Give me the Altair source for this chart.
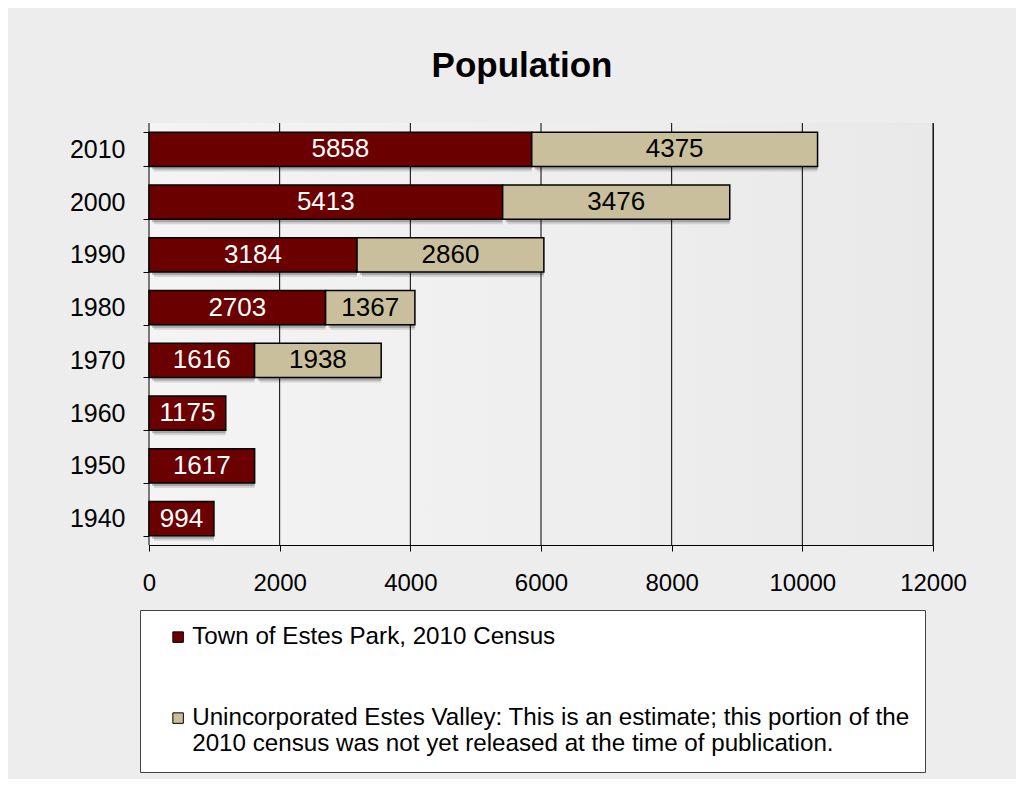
import altair as alt
import pandas as pd

years = ["2010", "2000", "1990", "1980", "1970", "1960", "1950", "1940"]
town = [5858, 5413, 3184, 2703, 1616, 1175, 1617, 994]
unincorporated = [4375, 3476, 2860, 1367, 1938, None, None, None]
series_names = [
    "Town of Estes Park, 2010 Census",
    "Unincorporated Estes Valley: This is an estimate; this portion of the|2010 census was not yet released at the time of publication.",
]
series_colors = ["#6B0000", "#C9BF9C"]
x_ticks = [0, 2000, 4000, 6000, 8000, 10000, 12000]

FONT = "Liberation Sans"
W, H = 784, 422

rows = []
for y, t, u in zip(years, town, unincorporated):
    rows.append({"year": y, "series": series_names[0], "value": t, "order": 0})
    if u is not None:
        rows.append({"year": y, "series": series_names[1], "value": u, "order": 1})
df = pd.DataFrame(rows)
grid_df = pd.DataFrame({"t": x_ticks})

x_scale = alt.Scale(domain=[0, 12000], nice=False, zero=True)
x_axis = alt.Axis(
    title=None, values=x_ticks, format="d", grid=False, labelFlush=False,
    labelFontSize=24, labelFont=FONT, labelColor="black", labelPadding=20,
    tickSize=6, tickColor="black", domainColor="black",
)
y_enc = alt.Y(
    "year:N", sort=years,
    scale=alt.Scale(paddingInner=0.355, paddingOuter=0.1775),
    axis=alt.Axis(
        title=None, tickBand="extent", labelFontSize=25, labelFont=FONT,
        labelColor="black", labelPadding=18, tickSize=6, tickColor="black",
        domainColor="black",
    ),
)

base = (
    alt.Chart(df)
    .transform_stack(stack="value", groupby=["year"], as_=["x0", "x1"],
                     sort=[alt.SortField("order")])
    .transform_calculate(mid="(datum.x0 + datum.x1) / 2")
)

bg = alt.Chart(pd.DataFrame({"d": [0]})).mark_rect(
    fill=alt.Gradient(
        gradient="linear", x1=0, x2=1, y1=0, y2=0,
        stops=[alt.GradientStop(offset=0, color="#F4F4F4"),
               alt.GradientStop(offset=1, color="#E9E9E9")],
    )
).encode(x=alt.value(0), x2=alt.value(W), y=alt.value(0), y2=alt.value(H))

grid = alt.Chart(grid_df).mark_rule(color="black", strokeWidth=1).encode(
    x=alt.X("t:Q", scale=x_scale, axis=x_axis)
)

shadow1 = base.mark_bar(xOffset=5, yOffset=5, color="black", opacity=0.12).encode(
    x=alt.X("x0:Q", scale=x_scale, axis=x_axis), x2="x1:Q", y=y_enc
)
shadow2 = base.mark_bar(xOffset=3, yOffset=3, color="black", opacity=0.22).encode(
    x=alt.X("x0:Q", scale=x_scale, axis=x_axis), x2="x1:Q", y=y_enc
)

bars = base.mark_bar(stroke="black", strokeWidth=1.5).encode(
    x=alt.X("x0:Q", scale=x_scale, axis=x_axis),
    x2="x1:Q",
    y=y_enc,
    color=alt.Color(
        "series:N",
        scale=alt.Scale(domain=series_names, range=series_colors),
        legend=alt.Legend(
            title=None, orient="none", legendX=-9, legendY=487,
            direction="vertical", fillColor="white", strokeColor="#444",
            padding=15, symbolOffset=11, symbolType="square", symbolSize=110,
            symbolStrokeColor="black", symbolStrokeWidth=1,
            labelFontSize=24.2, labelFont=FONT, labelColor="black",
            labelLimit=1000, rowPadding=56, labelOffset=2,
            labelExpr="split(datum.label, '|')",
        ),
    ),
)

labels = base.mark_text(fontSize=26, font=FONT).encode(
    x=alt.X("mid:Q", scale=x_scale, axis=x_axis),
    y=y_enc,
    text=alt.Text("value:Q", format="d"),
    color=alt.condition(alt.datum.order == 0, alt.value("white"), alt.value("black")),
)

chart = (
    alt.layer(bg, grid, shadow1, shadow2, bars, labels)
    .properties(
        width=W, height=H,
        title=alt.Title("Population", fontSize=35, fontWeight="bold", font=FONT,
                        color="black", anchor="middle", offset=27, dx=-19),
        autosize=alt.AutoSizeParams(type="none"),
        padding={"left": 141, "top": 115, "right": 83, "bottom": 234},
        background="#EDEDED",
    )
    .configure_view(stroke="#333", strokeWidth=1)
)

chart.save("out.html", embed_options={"renderer": "svg", "actions": False})
